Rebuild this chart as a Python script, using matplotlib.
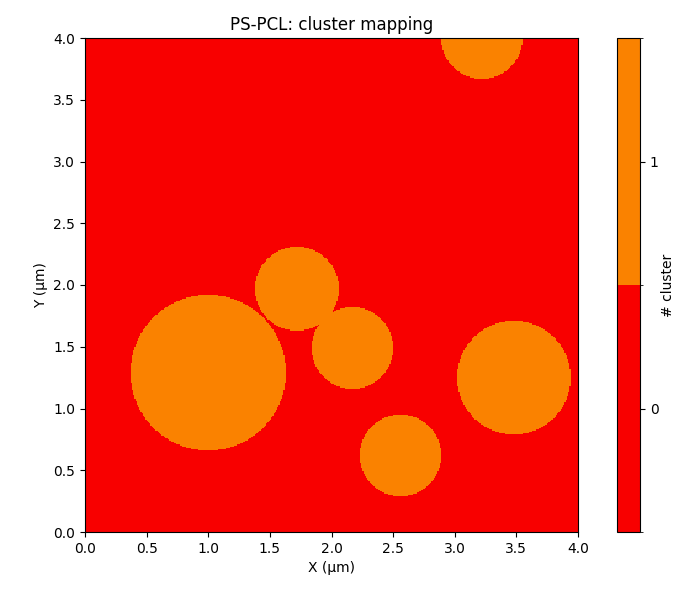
import numpy as np
import matplotlib
matplotlib.use("Agg")
import matplotlib.pyplot as plt
from matplotlib.colors import ListedColormap, BoundaryNorm

# Domains of cluster 1 (centre x, centre y, radius), in µm
domain_x = [1.00, 1.72, 2.17, 2.56, 3.48, 3.22]
domain_y = [1.29, 1.97, 1.49, 0.62, 1.25, 4.00]
domain_r = [0.63, 0.34, 0.33, 0.33, 0.46, 0.33]

cluster_ids = [0, 1]
cluster_colors = ["#f80000", "#fa8200"]
size_um = 4.0
n_px = 400

# Build the cluster map on a regular pixel grid
centers = (np.arange(n_px) + 0.5) * size_um / n_px
X, Y = np.meshgrid(centers, centers)
cluster_map = np.zeros((n_px, n_px), dtype=int)
for cx, cy, r in zip(domain_x, domain_y, domain_r):
    cluster_map[(X - cx) ** 2 + (Y - cy) ** 2 <= r ** 2] = 1

cmap = ListedColormap(cluster_colors)
norm = BoundaryNorm([-0.5, 0.5, 1.5], cmap.N)

fig = plt.figure(figsize=(6.79, 5.90), dpi=100)
ax = fig.add_axes([85 / 679, 58 / 590, 493 / 679, 494 / 590])
cax = fig.add_axes([617 / 679, 58 / 590, 23 / 679, 494 / 590])

im = ax.imshow(cluster_map, origin="lower", extent=[0, size_um, 0, size_um],
               cmap=cmap, norm=norm, interpolation="nearest", aspect="auto")
ax.set_xlim(0, size_um)
ax.set_ylim(0, size_um)
ax.set_xticks(np.arange(0, 4.01, 0.5))
ax.set_yticks(np.arange(0, 4.01, 0.5))
ax.set_xlabel("X (µm)")
ax.set_ylabel("Y (µm)")
ax.set_title("PS-PCL: cluster mapping")

cb = fig.colorbar(im, cax=cax, ticks=cluster_ids)
cb.set_label("# cluster", labelpad=2)

fig.savefig("out.png", dpi=100)
